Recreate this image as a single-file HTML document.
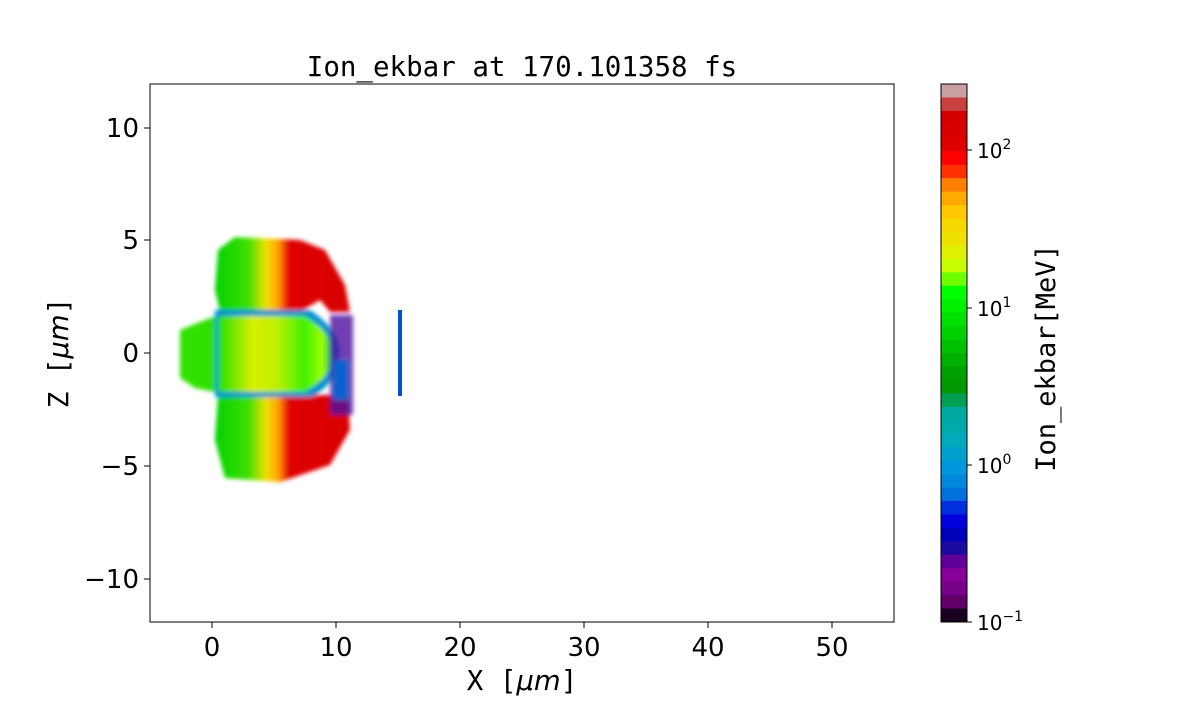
<!DOCTYPE html>
<html><head><meta charset="utf-8"><style>
body{margin:0;background:#fff;width:1200px;height:700px;overflow:hidden}
text{font-family:"DejaVu Sans","Liberation Sans",sans-serif;fill:#000}
.m{font-family:"DejaVu Sans Mono","Liberation Mono",monospace}
</style></head><body>
<svg width="1200" height="700" xmlns="http://www.w3.org/2000/svg">
<defs>
<linearGradient id="up" x1="0" x2="1" y1="0" y2="0">
<stop offset="0" stop-color="#00d000"/><stop offset="0.25" stop-color="#40e000"/>
<stop offset="0.38" stop-color="#f0e000"/><stop offset="0.47" stop-color="#ffa000"/>
<stop offset="0.55" stop-color="#e00000"/><stop offset="1" stop-color="#d80000"/></linearGradient>
<linearGradient id="mid" x1="0" x2="1" y1="0" y2="0">
<stop offset="0" stop-color="#20e000"/><stop offset="0.3" stop-color="#d8f000"/>
<stop offset="0.5" stop-color="#c0f000"/><stop offset="0.75" stop-color="#40f000"/>
<stop offset="0.9" stop-color="#a0ff00"/><stop offset="1" stop-color="#00a0a0"/></linearGradient>
<filter id="b"><feGaussianBlur stdDeviation="2"/></filter>
</defs>
<text class="m" x="522" y="76" font-size="27.5" text-anchor="middle">Ion_ekbar at 170.101358 fs</text>
<g filter="url(#b)">
<path d="M218,250 L235,237 L300,240 L325,250 L345,285 L350,312 L330,312 L320,300 L300,312 L220,312 L215,290Z" fill="url(#up)"/>
<path d="M218,395 L330,395 L348,398 L350,430 L330,465 L280,482 L225,478 L215,440Z" fill="url(#up)"/>
<path d="M180,330 L200,322 L218,315 L215,392 L195,388 L180,378Z" fill="#30e000"/>
<path d="M215,310 L310,310 Q340,330 340,353 Q340,380 312,397 L215,397Z" fill="#0090d0"/>
<path d="M218,316 L305,316 Q334,335 334,353 Q334,375 305,392 L218,392Z" fill="url(#mid)"/>
<rect x="330" y="315" width="23" height="100" fill="#5010a0" opacity="0.8"/>
<rect x="333" y="360" width="15" height="40" fill="#1060d0"/>
</g>
<rect x="398" y="310" width="4" height="86" fill="#0050d0"/>
<rect x="150" y="84" width="744" height="538" fill="none" stroke="#000" stroke-width="1"/>
<g stroke="#000" stroke-width="1">
<line x1="212" y1="622" x2="212" y2="628"/><line x1="336" y1="622" x2="336" y2="628"/><line x1="460" y1="622" x2="460" y2="628"/><line x1="584" y1="622" x2="584" y2="628"/><line x1="708" y1="622" x2="708" y2="628"/><line x1="832" y1="622" x2="832" y2="628"/>
<line x1="144" y1="128" x2="150" y2="128"/><line x1="144" y1="240" x2="150" y2="240"/><line x1="144" y1="353" x2="150" y2="353"/><line x1="144" y1="466" x2="150" y2="466"/><line x1="144" y1="579" x2="150" y2="579"/>
</g>
<g font-size="26" text-anchor="middle">
<text x="212" y="656">0</text><text x="336" y="656">10</text><text x="460" y="656">20</text><text x="584" y="656">30</text><text x="708" y="656">40</text><text x="832" y="656">50</text>
</g>
<g font-size="26" text-anchor="end">
<text x="139" y="137">10</text><text x="139" y="249">5</text><text x="139" y="362">0</text><text x="139" y="475">−5</text><text x="139" y="588">−10</text>
</g>
<text class="m" x="522" y="690" font-size="27.5" text-anchor="middle">X [<tspan font-style="italic" font-family="DejaVu Sans">μm</tspan>]</text>
<text class="m" transform="translate(68,353) rotate(-90)" font-size="27.5" text-anchor="middle">Z [<tspan font-style="italic" font-family="DejaVu Sans">μm</tspan>]</text>
<g id="cb"></g>
<rect x="941" y="84" width="26" height="538" fill="none" stroke="#000"/>
<g stroke="#000"><line x1="967" y1="150" x2="972" y2="150"/><line x1="967" y1="308" x2="972" y2="308"/><line x1="967" y1="465" x2="972" y2="465"/><line x1="967" y1="622" x2="972" y2="622"/></g>
<g font-size="20">
<text x="977" y="158">10<tspan font-size="14" dy="-9">2</tspan></text>
<text x="977" y="316">10<tspan font-size="14" dy="-9">1</tspan></text>
<text x="977" y="473">10<tspan font-size="14" dy="-9">0</tspan></text>
<text x="977" y="630">10<tspan font-size="14" dy="-9">−1</tspan></text>
</g>
<text class="m" transform="translate(1055,358) rotate(-90)" font-size="27" text-anchor="middle">Ion_ekbar[MeV]</text>
</svg>
<script>
var c=["#c8a0a0","#c84040","#d40000","#d80000","#e00000","#ff0000","#ff3000","#ff8000","#ffaa00","#ffc800","#f5d800","#eee000","#dff000","#c8ff00","#70ff00","#00ff00","#00f000","#00e000","#00d000","#00c000","#00b000","#00a000","#009800","#00a050","#00aaa0","#00aaaa","#00aabb","#00a0cc","#0098dd","#0088dd","#0070dd","#0030dd","#0000dd","#0000bb","#1a0aa0","#600099","#880099","#770088","#600066","#1a0020"];
var g=document.getElementById("cb"),h=538/40,s="";
for(var i=0;i<40;i++)s+='<rect x="941" y="'+(84+i*h)+'" width="26" height="'+(h+0.5)+'" fill="'+c[i]+'"/>';
g.innerHTML=s;
</script>
</body></html>
